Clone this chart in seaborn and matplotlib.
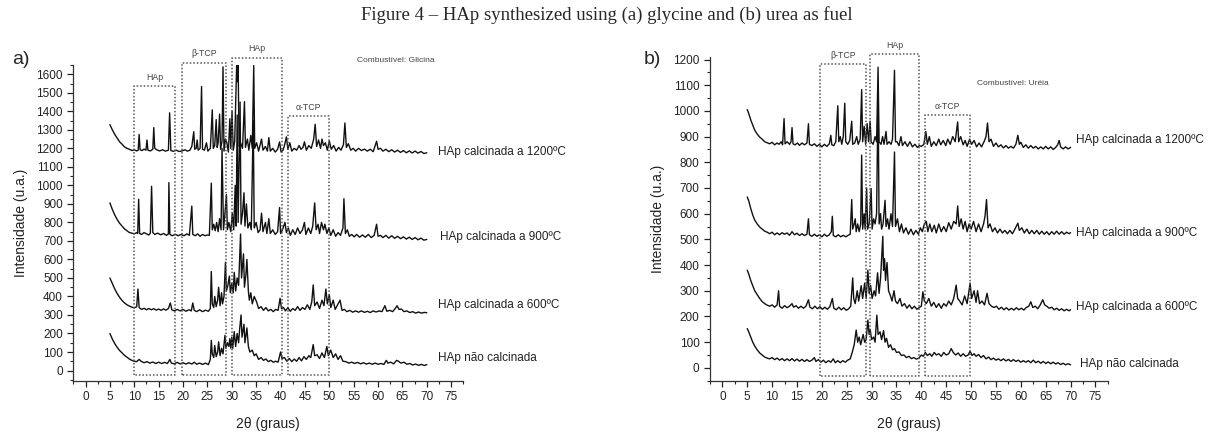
import matplotlib
matplotlib.use("Agg")
import matplotlib.pyplot as plt
from matplotlib.ticker import MultipleLocator
import seaborn as sns

# --- data: (2theta, intensity) ---
glicina_1200 = [(5.0, 1328), (5.5, 1300), (6.0, 1275), (6.5, 1255), (7.0, 1235), (7.5, 1222), (8.0, 1208), (8.5, 1200),
    (9.0, 1195), (9.5, 1188), (10.0, 1192), (10.5, 1186), (10.8, 1190), (11.0, 1275), (11.2, 1192), (11.6, 1188),
    (12.0, 1196), (12.4, 1190), (12.6, 1245), (12.8, 1190), (13.3, 1186), (13.8, 1195), (14.0, 1312), (14.2, 1200),
    (14.6, 1192), (15.2, 1186), (15.8, 1192), (16.4, 1185), (17.0, 1190), (17.25, 1392), (17.5, 1188), (18.0, 1184),
    (18.6, 1190), (19.2, 1183), (19.8, 1186), (20.4, 1192), (20.9, 1185), (21.4, 1190), (21.8, 1210), (22.2, 1290),
    (22.4, 1195), (22.7, 1200), (22.9, 1245), (23.1, 1190), (23.5, 1200), (23.8, 1534), (24.0, 1195), (24.4, 1190),
    (24.8, 1230), (25.1, 1185), (25.6, 1200), (26.0, 1408), (26.2, 1200), (26.5, 1215), (26.8, 1355), (27.0, 1205),
    (27.2, 1230), (27.5, 1385), (27.7, 1195), (28.0, 1240), (28.2, 1640), (28.4, 1185), (28.7, 1250), (29.0, 1230),
    (29.3, 1180), (29.6, 1360), (29.8, 1200), (30.05, 1400), (30.3, 1190), (30.6, 1240), (31.0, 1650), (31.15, 1560),
    (31.3, 1650), (31.5, 1210), (31.8, 1230), (32.2, 1200), (32.6, 1452), (32.8, 1205), (33.2, 1250), (33.5, 1190),
    (33.9, 1270), (34.2, 1200), (34.5, 1647), (34.7, 1200), (35.1, 1230), (35.5, 1185), (36.1, 1250), (36.4, 1190),
    (36.9, 1210), (37.3, 1185), (37.6, 1258), (37.9, 1185), (38.4, 1200), (38.9, 1180), (39.4, 1195), (39.8, 1235),
    (40.1, 1180), (40.5, 1190), (40.8, 1215), (41.2, 1262), (41.5, 1195), (41.9, 1230), (42.3, 1185), (42.8, 1200),
    (43.3, 1190), (43.8, 1215), (44.2, 1195), (44.6, 1205), (44.9, 1235), (45.3, 1190), (45.8, 1215), (46.3, 1200),
    (46.8, 1250), (47.1, 1330), (47.4, 1210), (47.8, 1245), (48.2, 1200), (48.5, 1250), (48.8, 1215), (49.2, 1230),
    (49.6, 1190), (50.0, 1240), (50.4, 1195), (50.9, 1215), (51.4, 1185), (51.9, 1205), (52.4, 1190), (52.9, 1220),
    (53.2, 1337), (53.5, 1205), (53.9, 1225), (54.4, 1190), (54.9, 1200), (55.4, 1185), (56.0, 1200), (56.6, 1188),
    (57.2, 1196), (57.8, 1185), (58.4, 1195), (59.0, 1182), (59.7, 1238), (60.0, 1195), (60.5, 1200), (61.0, 1185),
    (61.6, 1195), (62.2, 1182), (62.8, 1192), (63.4, 1180), (64.0, 1190), (64.6, 1178), (65.2, 1188), (65.8, 1176),
    (66.4, 1186), (67.0, 1175), (67.6, 1185), (68.2, 1174), (68.8, 1183), (69.4, 1172), (70.0, 1176)]

glicina_900 = [(5.0, 905), (5.5, 870), (6.0, 840), (6.5, 815), (7.0, 795), (7.5, 780), (8.0, 765), (8.5, 755),
    (9.0, 745), (9.5, 742), (10.0, 738), (10.5, 745), (10.7, 740), (10.9, 925), (11.1, 740), (11.5, 735), (12.0, 745),
    (12.5, 738), (13.0, 732), (13.3, 742), (13.55, 995), (13.8, 745), (14.2, 735), (14.8, 742), (15.4, 733), (16.0, 740),
    (16.6, 730), (17.0, 738), (17.1, 1015), (17.3, 735), (17.8, 728), (18.4, 736), (19.0, 728), (19.6, 735), (20.2, 728),
    (20.8, 738), (21.3, 730), (21.8, 888), (22.0, 735), (22.5, 728), (23.0, 738), (23.5, 725), (24.0, 735), (24.5, 728),
    (25.0, 732), (25.4, 730), (25.8, 1012), (26.0, 760), (26.3, 790), (26.6, 755), (26.9, 800), (27.2, 750), (27.5, 820),
    (27.8, 760), (28.0, 1200), (28.3, 760), (28.6, 850), (28.9, 950), (29.1, 760), (29.4, 800), (29.8, 750), (30.1, 850),
    (30.4, 760), (30.7, 1000), (30.9, 780), (31.1, 1380), (31.3, 800), (31.7, 1450), (31.9, 790), (32.2, 850),
    (32.5, 960), (32.7, 780), (33.0, 900), (33.3, 770), (33.7, 800), (34.0, 760), (34.4, 1350), (34.6, 770), (35.0, 800),
    (35.4, 745), (35.8, 760), (36.1, 850), (36.4, 750), (36.9, 800), (37.2, 740), (37.6, 820), (37.9, 740), (38.4, 760),
    (38.9, 735), (39.4, 750), (39.8, 880), (40.0, 740), (40.4, 760), (40.9, 800), (41.2, 745), (41.6, 770), (42.0, 730),
    (42.5, 760), (43.0, 735), (43.5, 770), (44.0, 740), (44.5, 760), (44.9, 800), (45.2, 735), (45.7, 770), (46.2, 740),
    (46.6, 780), (47.0, 905), (47.3, 760), (47.7, 790), (48.0, 740), (48.4, 800), (48.8, 760), (49.1, 790), (49.5, 740),
    (49.9, 770), (50.3, 730), (50.8, 760), (51.3, 725), (51.8, 745), (52.3, 730), (52.8, 770), (53.0, 928), (53.3, 740),
    (53.7, 760), (54.1, 725), (54.6, 735), (55.1, 722), (55.6, 735), (56.2, 720), (56.8, 732), (57.4, 720), (58.0, 735),
    (58.6, 718), (59.2, 730), (59.7, 790), (60.0, 725), (60.5, 730), (61.0, 718), (61.6, 730), (62.2, 715), (62.8, 728),
    (63.4, 714), (64.0, 725), (64.6, 712), (65.2, 722), (65.8, 710), (66.4, 720), (67.0, 708), (67.6, 718), (68.2, 706),
    (68.8, 715), (69.4, 704), (70.0, 708)]

glicina_600 = [(5.0, 500), (5.5, 470), (6.0, 440), (6.5, 415), (7.0, 395), (7.5, 378), (8.0, 365), (8.5, 355),
    (9.0, 348), (9.5, 342), (10.0, 338), (10.5, 345), (10.75, 440), (11.0, 340), (11.5, 330), (12.0, 336), (12.5, 328),
    (13.0, 335), (13.5, 328), (14.0, 334), (14.5, 326), (15.0, 332), (15.5, 325), (16.0, 333), (16.5, 326), (17.0, 335),
    (17.4, 365), (17.7, 328), (18.2, 322), (18.8, 330), (19.4, 322), (20.0, 330), (20.6, 320), (21.2, 328), (21.7, 322),
    (22.0, 365), (22.3, 325), (22.8, 318), (23.4, 328), (24.0, 318), (24.6, 326), (25.2, 320), (25.6, 335), (25.8, 535),
    (26.0, 360), (26.3, 340), (26.5, 400), (26.8, 345), (27.1, 380), (27.3, 450), (27.6, 350), (27.9, 420), (28.1, 360),
    (28.4, 400), (28.7, 585), (28.9, 430), (29.2, 460), (29.5, 510), (29.7, 420), (30.0, 470), (30.3, 420), (30.5, 530),
    (30.8, 430), (31.1, 500), (31.4, 460), (31.8, 737), (32.0, 500), (32.4, 630), (32.6, 450), (32.9, 520), (33.1, 600),
    (33.4, 430), (33.6, 380), (33.9, 420), (34.2, 360), (34.6, 400), (35.1, 370), (35.5, 335), (36.0, 345), (36.5, 325),
    (37.0, 340), (37.5, 322), (38.0, 330), (38.5, 318), (39.0, 330), (39.5, 325), (39.9, 390), (40.2, 335), (40.6, 340),
    (41.0, 322), (41.5, 340), (42.0, 320), (42.5, 335), (43.0, 325), (43.5, 345), (44.0, 325), (44.5, 340), (45.0, 330),
    (45.5, 355), (46.0, 330), (46.4, 370), (46.7, 462), (47.0, 350), (47.5, 370), (48.0, 335), (48.5, 380), (48.9, 350),
    (49.3, 440), (49.6, 360), (50.0, 410), (50.3, 340), (50.8, 380), (51.2, 330), (51.7, 355), (52.2, 380), (52.6, 325),
    (53.1, 330), (53.6, 318), (54.2, 325), (54.8, 315), (55.4, 322), (56.0, 315), (56.6, 322), (57.2, 314), (57.8, 320),
    (58.4, 313), (59.0, 322), (59.6, 316), (60.2, 322), (60.8, 318), (61.4, 350), (61.8, 320), (62.4, 325), (63.0, 318),
    (63.6, 338), (63.9, 350), (64.3, 330), (64.8, 332), (65.3, 318), (65.9, 322), (66.5, 313), (67.1, 318), (67.7, 310),
    (68.3, 316), (68.9, 310), (69.5, 314), (70.0, 312)]

glicina_nc = [(5.0, 200), (5.5, 170), (6.0, 145), (6.5, 125), (7.0, 108), (7.5, 95), (8.0, 82), (8.5, 72), (9.0, 62),
    (9.5, 55), (10.0, 50), (10.5, 48), (11.0, 60), (11.4, 50), (12.0, 42), (12.6, 48), (13.2, 40), (13.8, 46), (14.4, 38),
    (15.0, 45), (15.6, 38), (16.2, 44), (16.8, 38), (17.3, 60), (17.6, 40), (18.2, 36), (18.8, 44), (19.4, 36), (20.0, 42),
    (20.6, 35), (21.2, 42), (21.8, 35), (22.3, 45), (22.8, 34), (23.4, 40), (24.0, 33), (24.6, 40), (25.2, 32), (25.6, 60),
    (25.8, 163), (26.0, 90), (26.3, 70), (26.5, 135), (26.8, 75), (27.1, 100), (27.3, 155), (27.6, 80), (27.9, 120),
    (28.2, 90), (28.6, 190), (28.8, 120), (29.1, 150), (29.4, 130), (29.6, 172), (29.8, 120), (30.0, 180), (30.2, 120),
    (30.5, 210), (30.8, 130), (31.1, 200), (31.4, 150), (31.6, 220), (31.9, 300), (32.1, 180), (32.5, 250), (32.7, 150),
    (33.1, 230), (33.4, 130), (33.7, 100), (34.2, 110), (34.6, 80), (35.0, 90), (35.5, 60), (36.0, 70), (36.5, 55),
    (37.0, 62), (37.5, 48), (38.0, 55), (38.5, 45), (39.0, 50), (39.5, 45), (40.0, 100), (40.3, 65), (40.8, 70), (41.3, 50),
    (41.8, 65), (42.3, 48), (42.8, 62), (43.3, 50), (43.8, 70), (44.3, 52), (44.8, 75), (45.3, 60), (45.8, 80), (46.2, 70),
    (46.7, 140), (47.0, 80), (47.5, 85), (48.0, 65), (48.5, 95), (49.0, 70), (49.5, 130), (49.8, 80), (50.3, 110),
    (50.8, 70), (51.3, 90), (51.8, 60), (52.3, 80), (52.8, 50), (53.4, 48), (54.0, 40), (54.6, 45), (55.2, 38), (55.8, 44),
    (56.4, 36), (57.0, 42), (57.6, 35), (58.2, 40), (58.8, 34), (59.4, 40), (60.0, 34), (60.6, 38), (61.2, 33), (61.7, 55),
    (62.0, 40), (62.6, 45), (63.2, 36), (63.8, 55), (64.2, 50), (64.7, 40), (65.3, 45), (65.9, 34), (66.5, 38), (67.1, 30),
    (67.7, 35), (68.3, 28), (68.9, 33), (69.5, 27), (70.0, 32)]

ureia_1200 = [(5.0, 1005), (5.3, 990), (5.7, 965), (6.1, 945), (6.5, 925), (7.0, 910), (7.5, 898), (8.0, 890), (8.5, 880),
    (9.0, 876), (9.5, 872), (10.0, 878), (10.5, 868), (11.0, 875), (11.4, 870), (11.8, 880), (12.1, 868), (12.4, 970),
    (12.6, 872), (13.0, 880), (13.5, 870), (13.8, 880), (14.0, 935), (14.2, 872), (14.6, 868), (15.1, 875), (15.5, 866),
    (16.0, 875), (16.5, 868), (17.0, 875), (17.3, 950), (17.5, 870), (18.0, 865), (18.5, 872), (19.0, 862), (19.5, 870),
    (20.0, 860), (20.5, 870), (21.0, 862), (21.5, 872), (21.8, 905), (22.0, 868), (22.4, 865), (22.8, 880), (23.2, 1020),
    (23.4, 880), (23.7, 900), (24.0, 870), (24.3, 900), (24.6, 1030), (24.8, 880), (25.2, 870), (25.6, 885), (26.0, 960),
    (26.2, 870), (26.6, 875), (27.0, 900), (27.3, 870), (27.7, 890), (28.0, 1083), (28.2, 880), (28.5, 940), (28.8, 870),
    (29.1, 950), (29.4, 880), (29.7, 960), (29.9, 880), (30.3, 870), (30.7, 900), (31.0, 880), (31.3, 1170), (31.5, 880),
    (31.9, 870), (32.2, 900), (32.5, 870), (32.9, 920), (33.1, 870), (33.5, 880), (33.9, 870), (34.2, 890), (34.6, 1158),
    (34.8, 880), (35.1, 880), (35.5, 865), (35.9, 900), (36.2, 865), (36.7, 880), (37.2, 862), (37.7, 880), (38.2, 860),
    (38.7, 870), (39.2, 858), (39.6, 865), (40.0, 862), (40.5, 870), (40.9, 920), (41.2, 870), (41.6, 900), (42.0, 862),
    (42.5, 880), (43.0, 865), (43.5, 890), (43.9, 868), (44.4, 885), (44.9, 865), (45.3, 890), (45.8, 870), (46.3, 900),
    (46.8, 880), (47.3, 957), (47.5, 880), (47.9, 900), (48.4, 868), (48.8, 885), (49.2, 862), (49.7, 890), (50.1, 870),
    (50.6, 885), (51.1, 860), (51.6, 875), (52.1, 860), (52.6, 880), (53.0, 900), (53.3, 953), (53.6, 880), (54.0, 890),
    (54.5, 862), (55.0, 875), (55.5, 860), (56.0, 868), (56.5, 856), (57.0, 865), (57.5, 855), (58.0, 862), (58.5, 855),
    (59.0, 870), (59.4, 905), (59.7, 870), (60.0, 878), (60.5, 858), (61.0, 868), (61.5, 855), (62.0, 865), (62.5, 855),
    (63.0, 862), (63.5, 852), (64.0, 860), (64.5, 852), (65.0, 862), (65.5, 852), (66.0, 860), (66.5, 850), (67.0, 858),
    (67.4, 868), (67.7, 885), (68.0, 860), (68.5, 852), (69.0, 860), (69.5, 852), (70.0, 858)]

ureia_900 = [(5.0, 665), (5.3, 650), (5.7, 620), (6.1, 595), (6.5, 575), (7.0, 560), (7.5, 548), (8.0, 540), (8.5, 532),
    (9.0, 528), (9.5, 522), (10.0, 528), (10.5, 518), (11.0, 525), (11.5, 518), (12.0, 526), (12.5, 520), (13.0, 525),
    (13.5, 516), (14.0, 530), (14.5, 518), (15.0, 524), (15.5, 515), (16.0, 522), (16.5, 515), (17.0, 520), (17.3, 580),
    (17.5, 518), (18.0, 512), (18.5, 520), (19.0, 512), (19.5, 518), (20.0, 510), (20.5, 520), (21.0, 512), (21.5, 518),
    (21.9, 530), (22.1, 590), (22.3, 515), (22.8, 510), (23.3, 518), (23.8, 510), (24.3, 516), (24.8, 510), (25.3, 516),
    (25.7, 520), (26.0, 655), (26.2, 540), (26.5, 560), (26.7, 580), (26.9, 530), (27.2, 560), (27.5, 530), (27.8, 560),
    (28.0, 828), (28.2, 540), (28.5, 600), (28.7, 540), (29.0, 700), (29.2, 540), (29.5, 560), (29.9, 698), (30.1, 540),
    (30.4, 580), (30.7, 560), (31.0, 600), (31.3, 1080), (31.5, 560), (31.8, 600), (32.0, 540), (32.3, 560), (32.7, 652),
    (32.9, 550), (33.2, 580), (33.5, 540), (33.9, 600), (34.2, 550), (34.6, 840), (34.8, 550), (35.2, 580), (35.6, 530),
    (36.0, 560), (36.4, 525), (36.9, 545), (37.4, 520), (37.9, 540), (38.4, 518), (38.9, 535), (39.4, 520), (39.8, 545),
    (40.2, 530), (40.6, 560), (41.0, 570), (41.3, 530), (41.7, 560), (42.1, 530), (42.6, 555), (43.0, 525), (43.5, 560),
    (44.0, 530), (44.5, 550), (45.0, 530), (45.5, 565), (46.0, 540), (46.5, 570), (47.0, 560), (47.3, 630), (47.6, 550),
    (48.0, 580), (48.4, 540), (48.8, 570), (49.2, 530), (49.6, 560), (50.0, 540), (50.5, 570), (51.0, 530), (51.5, 560),
    (52.0, 530), (52.5, 560), (52.8, 590), (53.1, 655), (53.4, 545), (53.8, 560), (54.3, 530), (54.8, 545), (55.3, 525),
    (55.8, 540), (56.3, 525), (56.8, 535), (57.3, 522), (57.8, 535), (58.3, 522), (58.8, 540), (59.4, 563), (59.7, 535),
    (60.2, 545), (60.7, 525), (61.2, 540), (61.7, 522), (62.2, 535), (62.7, 522), (63.2, 535), (63.7, 520), (64.2, 532),
    (64.7, 520), (65.2, 530), (65.7, 518), (66.2, 530), (66.7, 520), (67.2, 532), (67.7, 520), (68.2, 530), (68.7, 520),
    (69.2, 528), (69.7, 522), (70.0, 526)]

ureia_600 = [(5.0, 380), (5.3, 365), (5.7, 340), (6.1, 320), (6.5, 300), (7.0, 285), (7.5, 270), (8.0, 258), (8.5, 250),
    (9.0, 244), (9.5, 240), (10.0, 245), (10.5, 236), (11.0, 245), (11.3, 300), (11.5, 240), (12.0, 232), (12.5, 242),
    (13.0, 234), (13.5, 240), (14.0, 250), (14.3, 236), (14.8, 242), (15.3, 232), (15.8, 240), (16.3, 232), (16.8, 240),
    (17.3, 265), (17.6, 236), (18.1, 230), (18.6, 240), (19.1, 230), (19.6, 238), (20.1, 228), (20.6, 236), (21.1, 228),
    (21.6, 238), (22.1, 270), (22.4, 232), (22.9, 226), (23.4, 236), (23.9, 226), (24.4, 234), (24.9, 224), (25.4, 230),
    (25.8, 240), (26.2, 350), (26.4, 270), (26.7, 250), (27.1, 300), (27.4, 260), (27.9, 320), (28.2, 270), (28.6, 330),
    (28.9, 270), (29.25, 380), (29.5, 290), (29.8, 320), (30.1, 270), (30.5, 300), (30.8, 280), (31.2, 370), (31.5, 290),
    (31.8, 350), (32.25, 512), (32.4, 380), (32.6, 425), (32.8, 340), (33.1, 410), (33.4, 300), (33.8, 280), (34.1, 260),
    (34.5, 300), (34.8, 260), (35.2, 250), (35.7, 270), (36.1, 240), (36.6, 250), (37.1, 232), (37.6, 245), (38.1, 230),
    (38.6, 240), (39.1, 228), (39.6, 235), (40.0, 240), (40.3, 296), (40.6, 260), (41.0, 250), (41.5, 270), (42.0, 240),
    (42.5, 255), (43.0, 235), (43.5, 250), (44.0, 232), (44.5, 250), (45.0, 240), (45.5, 260), (46.0, 245), (46.5, 270),
    (47.0, 322), (47.3, 270), (47.7, 260), (48.2, 245), (48.7, 280), (49.2, 250), (49.8, 330), (50.1, 270), (50.6, 300),
    (51.0, 255), (51.3, 300), (51.7, 250), (52.2, 260), (52.7, 245), (53.2, 290), (53.6, 250), (54.1, 240), (54.6, 235),
    (55.1, 240), (55.6, 228), (56.1, 236), (56.6, 226), (57.1, 234), (57.6, 225), (58.1, 232), (58.6, 225), (59.1, 234),
    (59.6, 226), (60.1, 232), (60.6, 225), (61.1, 235), (61.6, 240), (62.0, 257), (62.4, 235), (62.9, 240), (63.4, 230),
    (63.9, 245), (64.4, 265), (64.8, 245), (65.2, 240), (65.7, 232), (66.2, 236), (66.7, 226), (67.2, 232), (67.7, 224),
    (68.2, 230), (68.7, 222), (69.2, 228), (69.7, 222), (70.0, 226)]

ureia_nc = [(5.0, 153), (5.3, 140), (5.7, 120), (6.1, 100), (6.5, 85), (7.0, 70), (7.5, 58), (8.0, 50), (8.5, 42),
    (9.0, 38), (9.5, 35), (10.0, 40), (10.5, 32), (11.0, 38), (11.5, 30), (12.0, 36), (12.5, 28), (13.0, 35), (13.5, 28),
    (14.0, 36), (14.5, 27), (15.0, 34), (15.5, 26), (16.0, 33), (16.5, 25), (17.0, 32), (17.5, 25), (18.0, 30), (18.5, 40),
    (18.8, 25), (19.3, 32), (19.8, 22), (20.3, 30), (20.8, 20), (21.3, 28), (21.8, 22), (22.3, 35), (22.7, 20), (23.2, 28),
    (23.7, 20), (24.2, 28), (24.7, 22), (25.2, 30), (25.7, 35), (26.1, 60), (26.5, 90), (26.9, 147), (27.2, 100),
    (27.5, 120), (27.8, 90), (28.3, 130), (28.6, 100), (28.9, 110), (29.25, 186), (29.5, 130), (29.7, 150), (30.0, 110),
    (30.4, 120), (30.7, 100), (31.05, 205), (31.3, 130), (31.7, 140), (32.0, 110), (32.4, 145), (32.7, 100), (33.0, 115),
    (33.4, 80), (33.8, 90), (34.2, 70), (34.6, 75), (35.0, 60), (35.5, 62), (36.0, 48), (36.5, 50), (37.0, 40), (37.5, 45),
    (38.0, 36), (38.5, 40), (39.0, 34), (39.5, 38), (40.0, 50), (40.4, 45), (40.8, 60), (41.2, 48), (41.7, 55), (42.1, 45),
    (42.6, 60), (43.0, 50), (43.5, 55), (44.0, 45), (44.5, 60), (45.0, 50), (45.5, 55), (46.0, 75), (46.4, 60), (46.9, 50),
    (47.4, 58), (47.9, 45), (48.4, 55), (48.9, 45), (49.4, 50), (49.8, 65), (50.2, 48), (50.6, 55), (51.0, 45), (51.5, 52),
    (52.0, 40), (52.5, 48), (53.0, 35), (53.5, 42), (54.0, 32), (54.5, 38), (55.0, 30), (55.5, 35), (56.0, 28), (56.5, 35),
    (57.0, 27), (57.5, 33), (58.0, 25), (58.5, 32), (59.0, 25), (59.5, 30), (60.0, 22), (60.5, 28), (61.0, 22), (61.5, 28),
    (62.0, 20), (62.5, 30), (63.0, 20), (63.5, 26), (64.0, 18), (64.5, 25), (65.0, 17), (65.5, 23), (66.0, 16), (66.5, 22),
    (67.0, 15), (67.5, 20), (68.0, 13), (68.5, 18), (69.0, 12), (69.5, 16), (70.0, 12)]

series_labels = ["HAp calcinada a 1200ºC", "HAp calcinada a 900ºC", "HAp calcinada a 600ºC", "HAp não calcinada"]

# phase regions: (name, 2theta start, 2theta end, box top)
glicina_boxes = [("HAp", 10.0, 18.3, 1534), ("β-TCP", 19.7, 28.9, 1663), ("HAp", 30.0, 40.2, 1690), ("α-TCP", 41.6, 49.9, 1372)]
ureia_boxes = [("β-TCP", 19.6, 28.8, 1182), ("HAp", 29.7, 39.5, 1220), ("α-TCP", 40.7, 49.8, 983)]

sns.set_style("ticks")
plt.rcParams["font.family"] = ["Liberation Sans", "DejaVu Sans"]

fig = plt.figure(figsize=(12.14, 4.34), dpi=100)
ax_a = fig.add_axes([0.0604, 0.1228, 0.3213, 0.7274])
ax_b = fig.add_axes([0.5848, 0.1228, 0.3278, 0.746])


def draw_panel(ax, data, label_pos, boxes, box_bottom, ylim, fuel_text, fuel_pos):
    for pts, lab, (lx, ly) in zip(data, series_labels, label_pos):
        xs, ys = zip(*pts)
        sns.lineplot(x=list(xs), y=list(ys), ax=ax, color="#111111", lw=1.0, sort=False, estimator=None)
        ax.text(lx, ly, lab, fontsize=8.5, va="center", ha="left", color="#222222")
    for name, x0, x1, top in boxes:
        ax.plot([x0, x0, x1, x1, x0], [box_bottom, top, top, box_bottom, box_bottom],
                ls=(0, (1, 1.3)), color="#555555", lw=1.1, clip_on=False)
        ax.annotate(name, ((x0 + x1) / 2, top), xytext=(0, 3), textcoords="offset points",
                    ha="center", va="bottom", fontsize=6.3, color="#444444", annotation_clip=False)
    ax.text(fuel_pos[0], fuel_pos[1], fuel_text, fontsize=6, color="#444444", ha="center", va="center")
    ax.set_xlim(-2.5, 77.5)
    ax.set_ylim(*ylim)
    ax.xaxis.set_major_locator(MultipleLocator(5))
    ax.xaxis.set_minor_locator(MultipleLocator(2.5))
    ax.yaxis.set_major_locator(MultipleLocator(100))
    ax.yaxis.set_minor_locator(MultipleLocator(50))
    ax.tick_params(which="major", length=4, width=0.9, labelsize=8.5, colors="#222222")
    ax.tick_params(which="minor", length=2.5, width=0.8)
    ax.set_ylim(*ylim)
    ax.set_xlabel("2θ (graus)", fontsize=10, color="#222222", labelpad=10)
    ax.set_ylabel("Intensidade (u.a.)", fontsize=10, color="#222222", labelpad=6)
    sns.despine(ax=ax)
    for s in ("left", "bottom"):
        ax.spines[s].set_color("#333333")
        ax.spines[s].set_linewidth(0.9)


draw_panel(ax_a, [glicina_1200, glicina_900, glicina_600, glicina_nc],
           [(72.3, 1179), (72.7, 720), (72.3, 355), (72.2, 70)],
           glicina_boxes, -22, (-55, 1650), "Combustível: Glicina", (63.6, 1673))
draw_panel(ax_b, [ureia_1200, ureia_900, ureia_600, ureia_nc],
           [(71.0, 886), (71.0, 526), (71.1, 236), (71.9, 14)],
           ureia_boxes, -31, (-50, 1210), "Combustível: Uréia", (58.4, 1108))

fig.text(0.5, 0.965, "Figure 4 – HAp synthesized using (a) glycine and (b) urea as fuel",
         ha="center", va="center", fontsize=13.5, family=["Liberation Serif", "DejaVu Serif"])
fig.text(0.010, 0.862, "a)", fontsize=14, ha="left", va="center")
fig.text(0.530, 0.862, "b)", fontsize=14, ha="left", va="center")

fig.savefig("out.png", dpi=100)
